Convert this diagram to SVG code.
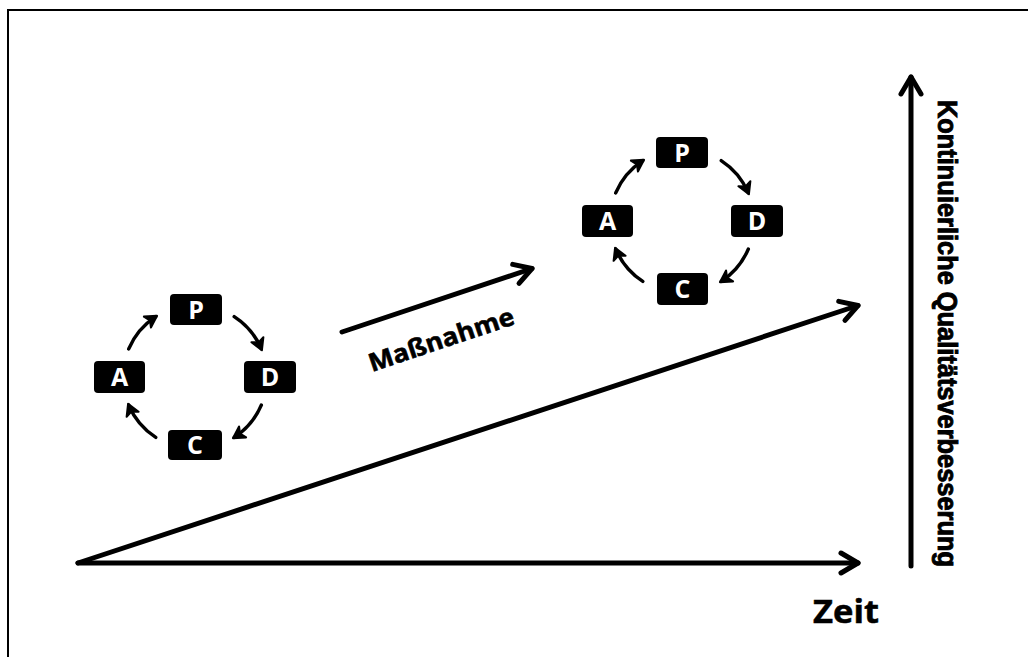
<svg xmlns="http://www.w3.org/2000/svg" width="1028" height="657" viewBox="0 0 1028 657">
  <style>
    .axis { fill: none; stroke: #000; stroke-width: 5; stroke-linecap: round; stroke-linejoin: round; }
    .cyc { fill: none; stroke: #000; stroke-width: 3.5; stroke-linecap: round; }
    .box rect { fill: #000; }
    .box text { fill: #fff; font-family: "Open Sans", "DejaVu Sans", sans-serif; font-weight: 700; font-size: 25px; text-anchor: middle; }
    .label { fill: #000; font-weight: 700; }
  </style>
  <defs>
    <marker id="chev" markerUnits="userSpaceOnUse" orient="auto" refX="0" refY="0" markerWidth="40" markerHeight="40" viewBox="-25 -20 40 40" overflow="visible">
      <path d="M-17,-10 L0,0 L-17,10" fill="none" stroke="#000" stroke-width="5" stroke-linecap="round" stroke-linejoin="round"/>
    </marker>
    <marker id="head" markerUnits="userSpaceOnUse" orient="auto" refX="0" refY="0" markerWidth="20" markerHeight="20" viewBox="-14 -10 20 20" overflow="visible">
      <path d="M1.5,0 L-10,-6.5 L-7,0 L-10,6.5 Z" fill="#000" stroke="#000" stroke-width="2" stroke-linejoin="round"/>
    </marker>
    <g id="ring">
      <path class="cyc" d="M39.2,-60.4 A72,72 0 0 1 66.3,-28.1" marker-end="url(#head)"/>
      <path class="cyc" d="M66.3,28.1 A72,72 0 0 1 39.2,60.4" marker-end="url(#head)"/>
      <path class="cyc" d="M-39.2,60.4 A72,72 0 0 1 -66.3,28.1" marker-end="url(#head)"/>
      <path class="cyc" d="M-66.3,-28.1 A72,72 0 0 1 -39.2,-60.4" marker-end="url(#head)"/>
    </g>
  </defs>

  <rect x="0" y="0" width="1028" height="657" fill="#fff"/>
  <!-- outer frame -->
  <rect x="8" y="10" width="1040" height="680" fill="none" stroke="#000" stroke-width="2"/>

  <!-- connectors -->
  <g id="connectors">
    <line class="axis" x1="78" y1="563" x2="858" y2="563" marker-end="url(#chev)"/>
    <line class="axis" x1="78" y1="563" x2="858" y2="305.5" marker-end="url(#chev)"/>
    <line class="axis" x1="911" y1="566" x2="911" y2="77" stroke-width="6" marker-end="url(#chev)"/>
    <line class="axis" x1="342" y1="332" x2="532" y2="268.5" stroke-width="5.5" marker-end="url(#chev)"/>
    <use href="#ring" transform="translate(195,377)"/>
    <use href="#ring" transform="translate(682,221)"/>
  </g>

  <!-- first PDCA cycle -->
  <g id="cycle1" transform="translate(195,377)">
    <g id="c1-P" class="box"><rect x="-25" y="-83" width="52" height="31" rx="4"/><text x="1" y="-58.5">P</text></g>
    <g id="c1-D" class="box"><rect x="49" y="-16" width="52" height="32" rx="4"/><text x="75" y="9">D</text></g>
    <g id="c1-C" class="box"><rect x="-27" y="53" width="54" height="30" rx="4"/><text x="0" y="77">C</text></g>
    <g id="c1-A" class="box"><rect x="-101" y="-16" width="51" height="32" rx="4"/><text x="-75.5" y="9">A</text></g>
  </g>

  <!-- second PDCA cycle -->
  <g id="cycle2" transform="translate(682,221)">
    <g id="c2-P" class="box"><rect x="-26" y="-84" width="52" height="31" rx="4"/><text x="0" y="-59.5">P</text></g>
    <g id="c2-D" class="box"><rect x="49" y="-16" width="52" height="32" rx="4"/><text x="75" y="9">D</text></g>
    <g id="c2-C" class="box"><rect x="-25" y="52" width="51" height="32" rx="4"/><text x="0.5" y="77">C</text></g>
    <g id="c2-A" class="box"><rect x="-100" y="-16" width="51" height="32" rx="4"/><text x="-74.5" y="9">A</text></g>
  </g>

  <!-- labels -->
  <g id="label-massnahme">
    <text class="label" transform="translate(372,372) rotate(-18.5)" font-family="'Open Sans', 'DejaVu Sans', sans-serif" font-size="25" stroke="#000" stroke-width="0.6" textLength="152" lengthAdjust="spacingAndGlyphs">Maßnahme</text>
  </g>
  <g id="label-zeit">
    <text class="label" x="813" y="623" font-family="'Open Sans', 'DejaVu Sans', sans-serif" font-size="32" stroke="#000" stroke-width="0.5" textLength="66" lengthAdjust="spacingAndGlyphs">Zeit</text>
  </g>
  <g id="label-quality">
    <text class="label" transform="translate(938,100) rotate(90)" font-family="'Liberation Sans', Arial, sans-serif" font-size="27" stroke="#000" stroke-width="0.9" textLength="467" lengthAdjust="spacingAndGlyphs">Kontinuierliche Qualitätsverbesserung</text>
  </g>
</svg>
